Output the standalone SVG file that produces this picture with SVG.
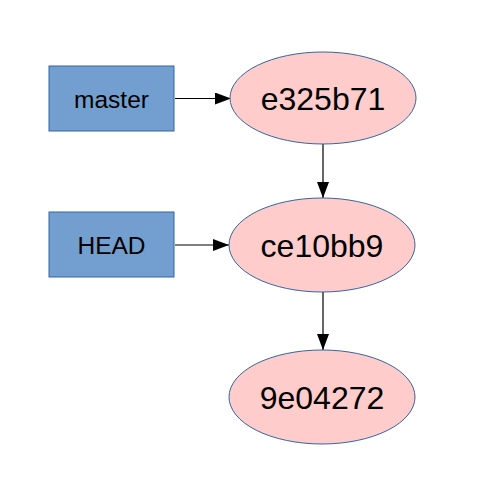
<svg xmlns="http://www.w3.org/2000/svg" width="480" height="480" viewBox="0 0 480 480">
<style>
.box{fill:#729fcf;stroke:#3465a4;stroke-width:1}
.commit{fill:#ffcccc;stroke:#3465a4;stroke-width:1}
.lbl{font-family:"Liberation Sans",Arial,sans-serif;fill:#000;text-anchor:middle;dominant-baseline:central}
.conn{stroke:#000;stroke-width:1.2;fill:none;marker-end:url(#ah)}
</style>
<defs>
<marker id="ah" markerWidth="16" markerHeight="12" refX="16" refY="6" orient="auto" markerUnits="userSpaceOnUse">
<path d="M0,0 L16,6 L0,12 Z" fill="#000"/>
</marker>
</defs>
<rect width="480" height="480" fill="#fff"/>
<g id="connectors">
<line class="conn" x1="175" y1="98.5" x2="231" y2="98.5"/>
<line class="conn" x1="175" y1="245" x2="229" y2="245"/>
<line class="conn" x1="323" y1="144" x2="323" y2="198"/>
<line class="conn" x1="323" y1="292" x2="323" y2="350"/>
</g>
<g id="master">
<rect class="box" x="49" y="66" width="125" height="65"/>
<text class="lbl" x="111.5" y="99" font-size="24.5">master</text>
</g>
<g id="HEAD">
<rect class="box" x="49" y="212" width="125" height="65"/>
<text class="lbl" x="111.5" y="245" font-size="24.5">HEAD</text>
</g>
<g id="e325b71">
<ellipse class="commit" cx="323" cy="98" rx="93" ry="46"/>
<text class="lbl" x="323" y="99" font-size="32">e325b71</text>
</g>
<g id="ce10bb9">
<ellipse class="commit" cx="322" cy="245" rx="93" ry="47"/>
<text class="lbl" x="322" y="246" font-size="32">ce10bb9</text>
</g>
<g id="9e04272">
<ellipse class="commit" cx="322" cy="397" rx="93" ry="47"/>
<text class="lbl" x="322" y="398" font-size="32">9e04272</text>
</g>
</svg>
